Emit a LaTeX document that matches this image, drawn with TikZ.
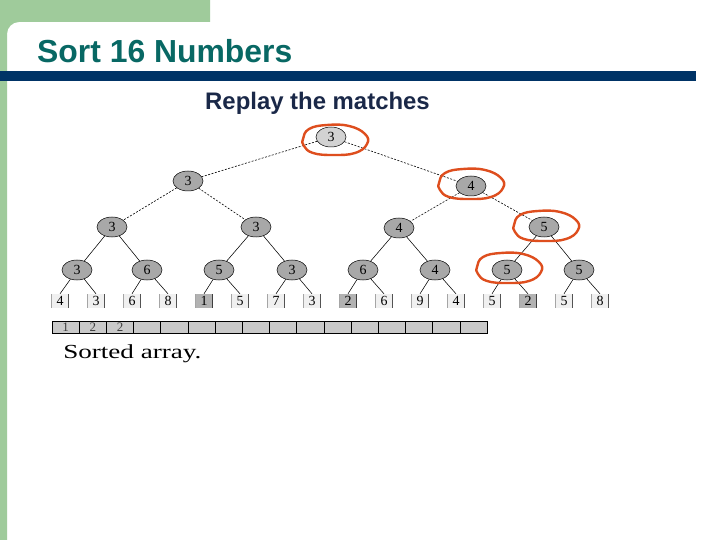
\documentclass[tikz,border=0pt]{standalone}
\usepackage{fontspec}
\setmainfont{Liberation Serif}
\newfontfamily\slidefont{Liberation Sans}
\usepackage{tikz}
\usetikzlibrary{shapes.geometric}

\definecolor{slidegreen}{RGB}{159,203,155}
\definecolor{slidenavy}{RGB}{0,51,102}
\definecolor{titleteal}{RGB}{8,104,100}
\definecolor{subnavy}{RGB}{26,40,72}
\definecolor{penred}{RGB}{222,78,30}

\tikzset{
  player/.style={ellipse, draw=black, line width=0.5bp, fill=gray!68,
    minimum width=30bp, minimum height=20bp, inner sep=0pt,
    font=\fontsize{14}{14}\selectfont},
  champ/.style={player, fill=gray!35},
  leaf/.style={rectangle, fill=gray!12, minimum width=17bp, minimum height=14bp,
    inner sep=0pt, font=\fontsize{14}{14}\selectfont,
    path picture={
      \draw[line width=1.3bp] (path picture bounding box.north west) -- (path picture bounding box.south west);
      \draw[line width=0.6bp] (path picture bounding box.north east) -- (path picture bounding box.south east);}},
  winleaf/.style={leaf, fill=gray!60},
  cell/.style={rectangle, draw=black, line width=1bp, fill=gray!42,
    minimum width=27.2bp, minimum height=12bp, inner sep=0pt,
    font=\fontsize{13}{13}\selectfont, text=black!75},
  upper/.style={line width=0.6bp, dash pattern=on 2bp off 1.5bp},
  lower/.style={line width=0.55bp},
  matchring/.style={draw=penred, line width=2.4bp, line join=round}
}

\begin{document}
\begin{tikzpicture}[x=1bp, y=-1bp]

% ===================== SLIDE FRAME =====================
\useasboundingbox (0,0) rectangle (720,540);
\fill[white] (0,0) rectangle (720,540);
\fill[slidegreen] (0,0) -- (210,0) -- (210,22) [rounded corners=12bp] -- (7,22)
    [sharp corners] -- (7,540) -- (0,540) -- cycle;
\fill[slidenavy] (0,71) rectangle (696,81);

% Titles
\node[anchor=base west, inner sep=0pt, text=titleteal,
      font=\slidefont\bfseries\fontsize{32}{36}\selectfont] (title) at (37,63) {Sort 16 Numbers};
\node[anchor=base west, inner sep=0pt, text=subnavy,
      font=\slidefont\bfseries\fontsize{24}{28}\selectfont] (subtitle) at (205,110) {Replay the matches};

% ===================== TOURNAMENT TREE =====================
% Leaves
\foreach \v/\s [count=\i from 0] in {4/leaf,3/leaf,6/leaf,8/leaf,1/winleaf,5/leaf,7/leaf,3/leaf,
                                    2/winleaf,6/leaf,9/leaf,4/leaf,5/leaf,2/winleaf,5/leaf,8/leaf}
    \node[\s] (l\i) at ({60+36*\i},301) {\v};

% Level 3
\foreach \x/\v [count=\i from 0] in {77/3,147/6,219/5,292/3,363/6,435/4,507/5,579/5}
    \node[player] (d\i) at (\x,270) {\v};

% Level 2
\node[player] (c0) at (112,227) {3};
\node[player] (c1) at (256,227) {3};
\node[player] (c2) at (399,228) {4};
\node[player] (c3) at (544,227) {5};

% Level 1 and root
\node[player] (b0) at (188,181) {3};
\node[player] (b1) at (471,186) {4};
\node[champ] (root) at (331,137) {3};

% Matches
\draw[upper] (root) -- (b0);
\draw[upper] (root) -- (b1);
\draw[upper] (b0) -- (c0);
\draw[upper] (b0) -- (c1);
\draw[upper] (b1) -- (c2);
\draw[upper] (b1) -- (c3);
\foreach \p [evaluate=\p as \a using int(2*\p), evaluate=\p as \b using int(2*\p+1)] in {0,...,3} {
    \draw[lower] (c\p) -- (d\a);
    \draw[lower] (c\p) -- (d\b);
}
\foreach \p [evaluate=\p as \a using int(2*\p), evaluate=\p as \b using int(2*\p+1)] in {0,...,7} {
    \draw[lower] (d\p) -- (l\a.north);
    \draw[lower] (d\p) -- (l\b.north);
}

% Replayed path (pen marks)
\foreach \n/\dx/\dy in {root/4/3, b1/0/-2, c3/2/-1, d6/2/-2}
    \draw[matchring, shift={(\n.center)}, xshift=\dx bp, yshift=-\dy bp]
        plot[smooth cycle, tension=0.75] coordinates {(-32,-1) (-26,-11) (-8,-15) (14,-14)
            (30,-6) (32,4) (20,13) (-2,15) (-22,13) (-31,6)};

% ===================== SORTED ARRAY =====================
\foreach \v [count=\i from 0] in {1,2,2,,,,,,,,,,,,,}
    \node[cell] (s\i) at ({65.6+27.2*\i},327) {\v};
\node[anchor=base west, inner sep=0pt, xscale=1.36, transform shape,
      font=\fontsize{20}{24}\selectfont] (caption) at (63,358) {Sorted array.};

\end{tikzpicture}
\end{document}
